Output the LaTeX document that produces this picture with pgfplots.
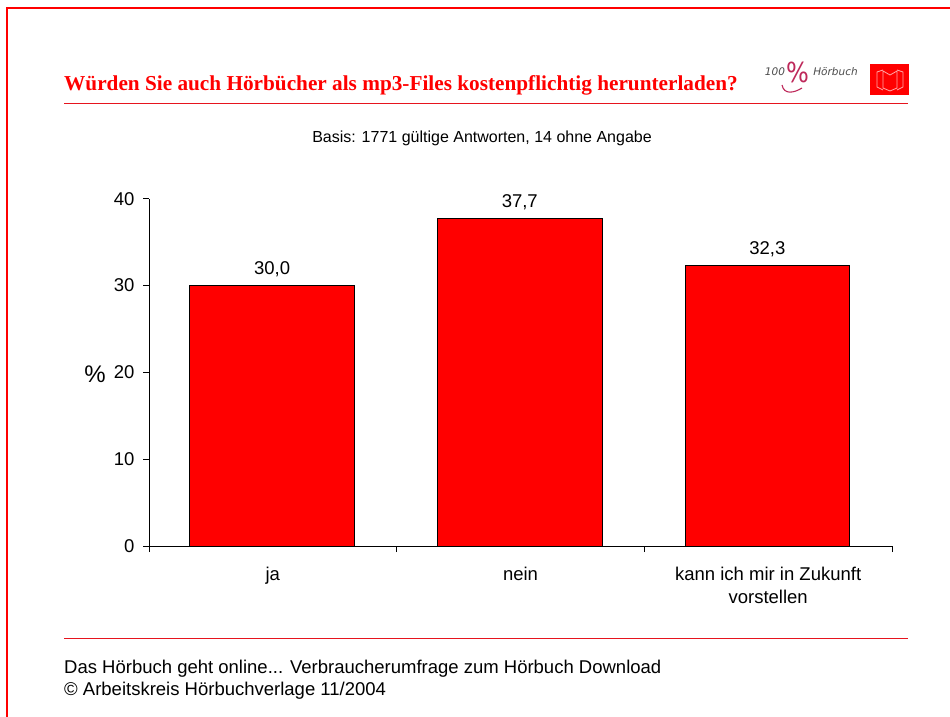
\documentclass[border=0pt]{standalone}
\usepackage{pgfplots}
\pgfplotsset{compat=1.18}
\usepackage{fontspec}
\setmainfont{Liberation Sans}
\newfontfamily\serifb{Liberation Serif}
\newfontfamily\logof{DejaVu Sans}
\definecolor{frame}{RGB}{255,0,0}
\definecolor{rule}{RGB}{230,20,30}
\definecolor{logop}{RGB}{190,40,90}
\begin{document}
\begin{tikzpicture}[x=1pt,y=-1pt]
\path[use as bounding box,fill=white] (0,0) rectangle (950,717);
\draw[frame,line width=1.8pt] (7,717) -- (7,8) -- (950,8);
\node[anchor=base west,font=\serifb\bfseries\fontsize{21.25}{24}\selectfont,text=frame,inner sep=0pt] at (64,90) {Würden Sie auch Hörbücher als mp3-Files kostenpflichtig herunterladen?};
\draw[rule,line width=1pt] (64,103.5) -- (908,103.5);
\draw[rule,line width=1pt] (64,638.5) -- (908,638.5);
% logo
\node[anchor=center,font=\logof\itshape\fontsize{10.5}{12}\selectfont,text=black!70,inner sep=0pt] at (775,72) {100};
\node[anchor=center,font=\logof\fontsize{24}{26}\selectfont,text=logop,inner sep=0pt,yscale=1.15] at (797.5,72.5) {\%};
\node[anchor=center,font=\logof\itshape\fontsize{10.5}{12}\selectfont,text=black!70,inner sep=0pt] at (835.5,72) {Hörbuch};
\draw[logop,line width=1.1pt] (782,85) .. controls (784,95) and (794,93) .. (802,88);
% book icon
\fill[frame] (870,64) rectangle (909,95);
\draw[white,opacity=.65,line width=.8pt] (883,71) -- (890,75) -- (897,71) -- (897,88) -- (890,91) -- (883,88) -- cycle;
\draw[white,opacity=.65,line width=.8pt] (883,70) -- (877,72) -- (877,87) -- (883,90) (897,70) -- (903,72) -- (903,87) -- (897,90);
\node[anchor=center,font=\fontsize{16}{19}\selectfont,inner sep=0pt] at (482,138) {Basis: 1771 gültige Antworten, 14 ohne Angabe};
\node[anchor=center,font=\fontsize{24}{26}\selectfont,inner sep=0pt] at (95,374) {\%};
\node[anchor=base west,font=\fontsize{18.5}{20}\selectfont,inner sep=0pt] at (64,673) {Das Hörbuch geht online... Verbraucherumfrage zum Hörbuch Download};
\node[anchor=base west,font=\fontsize{18.5}{20}\selectfont,inner sep=0pt] at (64,695) {© Arbeitskreis Hörbuchverlage 11/2004};
\begin{axis}[
  at={(149pt,-546.2pt)}, anchor=south west,
  scale only axis, width=743pt, height=347.5pt,
  xmin=-0.5, xmax=2.5, ymin=0, ymax=40,
  axis lines=left,
  axis line style={-,black,line width=0.7pt},
  tick align=outside,
  ytick={0,10,20,30,40},
  xtick={0,1,2},
  xticklabels={ja,nein,{kann ich mir in Zukunft\\vorstellen}},
  minor xtick={-0.5,0.5,1.5,2.5},
  major tick length=6pt, minor tick length=6pt,
  major x tick style={draw=none},
  tick style={black,line width=0.7pt},
  tick label style={font=\fontsize{18.5}{23}\selectfont},
  xticklabel style={align=center,yshift=-11pt,anchor=north},
  yticklabel style={xshift=-5pt},
  /pgf/number format/assume math mode=true,
  ybar, bar width=0.665,
  nodes near coords,
  point meta=explicit symbolic,
  nodes near coords style={font=\fontsize{18.5}{20}\selectfont,black,yshift=5pt},
]
\addplot[fill=frame,draw=black,line width=0.7pt] coordinates {(-0.003,30.0) [30,0] (0.997,37.7) [37,7] (1.997,32.3) [32,3]};
\end{axis}
\end{tikzpicture}
\end{document}
